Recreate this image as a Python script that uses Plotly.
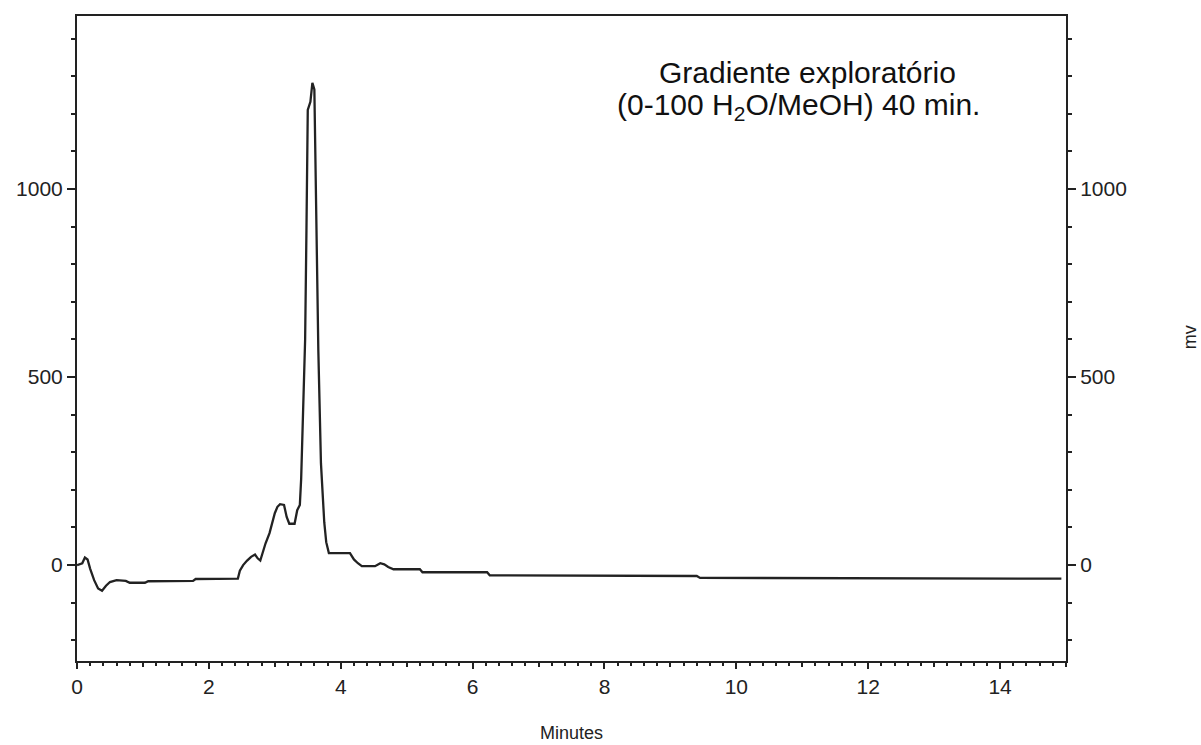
import plotly.graph_objects as go

# Retention time (minutes) and detector signal (mV)
minutes = [0.00, 0.08, 0.12, 0.16, 0.20, 0.26, 0.32, 0.38, 0.44, 0.50, 0.60, 0.74, 0.80,
           1.03, 1.08, 1.76, 1.80, 2.44, 2.47, 2.52, 2.58, 2.64, 2.70, 2.74, 2.78, 2.82,
           2.86, 2.92, 2.96, 3.00, 3.04, 3.08, 3.14, 3.18, 3.22, 3.30, 3.34, 3.38, 3.40,
           3.42, 3.46, 3.48, 3.50, 3.54, 3.57, 3.60, 3.62, 3.66, 3.70, 3.75, 3.78, 3.82,
           4.14, 4.20, 4.26, 4.32, 4.52, 4.60, 4.66, 4.72, 4.80, 5.20, 5.24, 6.22, 6.26,
           9.40, 9.45, 14.93]
signal_mv = [0, 5, 20, 15, -10, -40, -62, -68, -55, -45, -40, -42, -47,
             -47, -43, -42, -37, -36, -15, 0, 12, 22, 28, 18, 12, 35,
             58, 85, 112, 138, 155, 162, 160, 128, 110, 110, 146, 160, 230,
             346, 600, 890, 1210, 1232, 1282, 1265, 1000, 572, 271, 114, 61, 32,
             32, 15, 5, -3, -3, 5, 2, -5, -11, -11, -19, -19, -27,
             -29, -34, -36]

x_ticks = [0, 2, 4, 6, 8, 10, 12, 14]
x_odd_ticks = [1, 3, 5, 7, 9, 11, 13, 15]
y_ticks = [0, 500, 1000]
x_range = [0, 15]
y_range = [-255, 1460]

FONT = "Liberation Sans, Arial, sans-serif"
INK = "#222222"

fig = go.Figure()
fig.add_trace(go.Scatter(x=minutes, y=signal_mv, mode="lines",
                         line=dict(color=INK, width=2.3), showlegend=False,
                         hoverinfo="x+y"))
# invisible copies to anchor the right-hand axis and the odd-minute ticks
fig.add_trace(go.Scatter(x=minutes, y=signal_mv, mode="lines", yaxis="y2",
                         line=dict(color="rgba(0,0,0,0)", width=0),
                         showlegend=False, hoverinfo="skip"))
fig.add_trace(go.Scatter(x=minutes, y=signal_mv, mode="lines", xaxis="x2",
                         line=dict(color="rgba(0,0,0,0)", width=0),
                         showlegend=False, hoverinfo="skip"))

axis_common = dict(showgrid=False, zeroline=False, showline=True,
                   linecolor=INK, linewidth=2, ticks="outside", tickcolor=INK,
                   tickwidth=2, tickfont=dict(family=FONT, size=21, color=INK))

fig.update_layout(
    width=1201, height=745,
    margin=dict(l=77, r=135, t=16, b=84),
    plot_bgcolor="white", paper_bgcolor="white",
    xaxis=dict(range=x_range, tickvals=x_ticks, ticklen=6, mirror=True,
               minor=dict(dtick=0.2, ticklen=3, tickcolor=INK, tickwidth=2, ticks="outside"),
               **axis_common),
    xaxis2=dict(range=x_range, tickvals=x_odd_ticks, ticklen=5, overlaying="x",
                side="bottom", anchor="y", showticklabels=False,
                showgrid=False, zeroline=False, showline=False, ticks="outside",
                tickcolor=INK, tickwidth=2),
    yaxis=dict(range=y_range, tickvals=y_ticks, ticklen=8,
               minor=dict(dtick=100, ticklen=4, tickcolor=INK, tickwidth=2, ticks="outside"),
               **axis_common),
    yaxis2=dict(range=y_range, tickvals=y_ticks, ticklen=8, overlaying="y", side="right",
                minor=dict(dtick=100, ticklen=4, tickcolor=INK, tickwidth=2, ticks="outside"),
                **axis_common),
)

fig.add_annotation(text="Minutes", xref="paper", yref="paper", x=0.5, y=-0.112,
                   showarrow=False, font=dict(family=FONT, size=18, color=INK),
                   xanchor="center", yanchor="middle")
fig.add_annotation(text="mv", xref="paper", yref="paper", x=1.1254, y=0.502,
                   textangle=-90, showarrow=False,
                   font=dict(family=FONT, size=18, color=INK),
                   xanchor="center", yanchor="middle")
fig.add_annotation(text="Gradiente exploratório", xref="paper", yref="paper",
                   x=(807 - 77) / 989, y=(661 - 72) / 645, showarrow=False,
                   font=dict(family=FONT, size=30, color="#111111"),
                   xanchor="center", yanchor="middle")
fig.add_annotation(text="(0-100 H<sub>2</sub>O/MeOH) 40 min.", xref="paper", yref="paper",
                   x=(798 - 77) / 989, y=(661 - 107) / 645, showarrow=False,
                   font=dict(family=FONT, size=30, color="#111111"),
                   xanchor="center", yanchor="middle")

fig.write_html("out.html")
